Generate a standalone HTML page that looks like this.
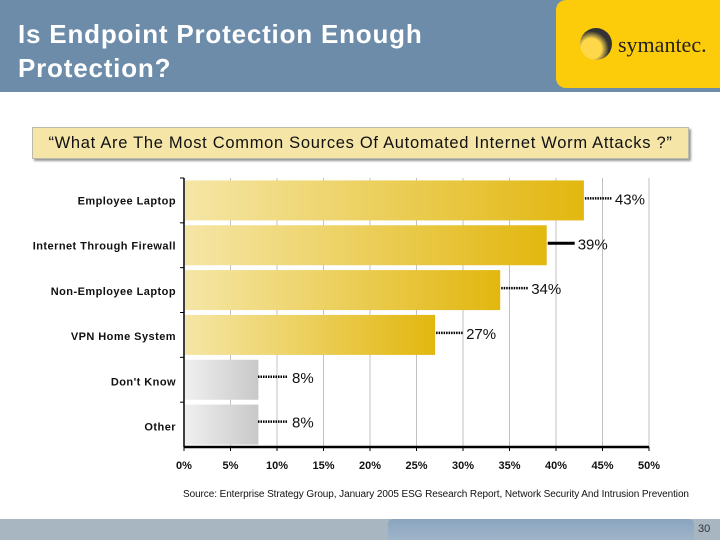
<!DOCTYPE html>
<html><head><meta charset="utf-8"><style>
body{margin:0;width:720px;height:540px;overflow:hidden;background:#fff;font-family:"Liberation Sans",sans-serif;position:relative}
</style></head><body>
<div style="position:absolute;left:0;top:0;width:720px;height:92px;background:#6d8caa"></div>
<div style="position:absolute;left:18px;top:17px;color:#fff;font-weight:bold;font-size:26px;letter-spacing:0.8px;line-height:34px">Is Endpoint Protection Enough<br>Protection?</div>
<div style="position:absolute;left:556px;top:0;width:164px;height:88px;background:#fccc0a;border-radius:10px 0 0 10px"></div>
<div style="position:absolute;left:580px;top:28px;width:32px;height:32px;border-radius:50%;background:radial-gradient(circle at 35% 65%,#ffd84a 0 35%,#333 60%)"></div>
<div style="position:absolute;left:618px;top:32px;font-family:'Liberation Serif',serif;font-size:22px;color:#222">symantec.</div>
<div style="position:absolute;left:32px;top:127px;width:655px;height:30px;background:#f5e6a8;border:1px solid #bba;box-shadow:2px 2px 2px #999;font-size:16.5px;letter-spacing:0.7px;line-height:30px;text-align:center;color:#111">“What Are The Most Common Sources Of Automated Internet Worm Attacks ?”</div>
<svg id="chart" width="720" height="540" style="position:absolute;left:0;top:0">
<defs>
<linearGradient id="gy" x1="0" x2="1"><stop offset="0" stop-color="#f5e6a6"/><stop offset="1" stop-color="#e2b70f"/></linearGradient>
<linearGradient id="gg" x1="0" x2="1"><stop offset="0" stop-color="#f0f0f0"/><stop offset="1" stop-color="#c8c8c8"/></linearGradient>
</defs>
</svg>
<div style="position:absolute;left:183px;top:489px;font-size:10px;letter-spacing:-0.08px;color:#111;white-space:nowrap">Source: Enterprise Strategy Group, January 2005 ESG Research Report, Network Security And Intrusion Prevention</div>
<div style="position:absolute;left:0;top:519px;width:720px;height:21px;background:#a8b6c2"></div>
<div style="position:absolute;left:388px;top:519px;width:306px;height:21px;background:linear-gradient(#8aa4bf,#9fb4c9);border-radius:5px 5px 0 0"></div>
<div style="position:absolute;left:698px;top:523px;font-size:11px;color:#333">30</div>
<script>
const categories=["Employee Laptop","Internet Through Firewall","Non-Employee Laptop","VPN Home System","Don't Know","Other"];
const values=[43,39,34,27,8,8];
const ticks=[0,5,10,15,20,25,30,35,40,45,50];
const leaderStyle=["dot","solid","dot","dot","dot","dot"];
const svg=document.getElementById('chart');
const NS="http://www.w3.org/2000/svg";
const x0=184,x1=649,yTop=178,yBot=447,band=(yBot-yTop)/categories.length;
const xs=v=>x0+(v/50)*(x1-x0);
function el(t,a){const e=document.createElementNS(NS,t);for(const k in a)e.setAttribute(k,a[k]);svg.appendChild(e);return e;}
ticks.forEach((t,i)=>{
 if(i>0){const g=el('line',{x1:xs(t),x2:xs(t),y1:yTop,y2:yBot,stroke:'#c0c0c0','stroke-width':1});
 
 }
 const tk=el('line',{x1:xs(t),x2:xs(t),y1:yBot,y2:yBot+4,stroke:'#000'});
 
 
 const lb=el('text',{x:xs(t),y:yBot+22,'text-anchor':'middle','font-size':11,'font-weight':'bold',fill:'#111'});
 lb.textContent=t+'%';
 
 
});
categories.forEach((c,i)=>{
 const yc=yTop+band*(i+0.5),v=values[i];
 const b=el('rect',{x:x0+1,y:yc-20,width:xs(v)-x0-1,height:40,fill:v>10?'url(#gy)':'url(#gg)'});
 
 
 const lb=el('text',{x:176,y:yc+4+i*0.4,'text-anchor':'end','font-size':11,'font-weight':'bold','letter-spacing':0.45,fill:'#111'});
 lb.textContent=c;
 
 
 const tk=el('line',{x1:x0-4,x2:x0,y1:yTop+band*i,y2:yTop+band*i,stroke:'#000'});
 
 
 const lyy=i<4?yc-2:yc-3;
 const L=el('line',{x1:xs(v)+1,x2:xs(v)+28,y1:lyy,y2:lyy,stroke:'#000','stroke-width':leaderStyle[i]==='solid'?3:2.5,'stroke-dasharray':leaderStyle[i]==='solid'?'none':'1.5,1'});
 if(v<10){L.setAttribute('x1',258);L.setAttribute('x2',288);}
 
 
 const vt=el('text',{x:(v<10?292:xs(v)+31),y:lyy+6,'font-size':15,fill:'#111'});
 vt.textContent=v+'%';
 
 
});
const ya=el('line',{x1:x0,x2:x0,y1:yTop,y2:yBot,stroke:'#000','stroke-width':1.5});


const xa=el('line',{x1:x0,x2:x1,y1:yBot,y2:yBot,stroke:'#000','stroke-width':2.5});


</script>
</body></html>
